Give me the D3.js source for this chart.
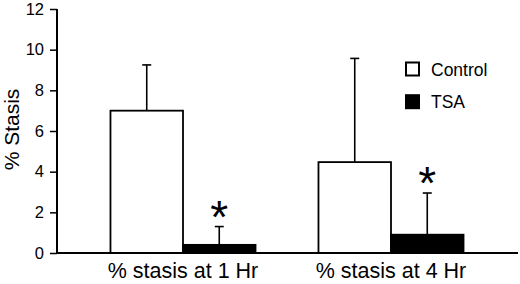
<!DOCTYPE html>
<html>
<head>
<meta charset="utf-8">
<script src="https://cdn.jsdelivr.net/npm/d3@7"></script>
<style>
html,body{margin:0;padding:0;background:#fff;}
svg{display:block;font-family:"Liberation Sans",Arial,sans-serif;}
</style>
</head>
<body>
<svg id="chart" width="520" height="284"></svg>
<script>
const categories = ["% stasis at 1 Hr", "% stasis at 4 Hr"];
const seriesNames = ["Control", "TSA"];
const controlValues = [7.0, 4.47];
const controlErrors = [2.25, 5.1];
const tsaValues = [0.4, 0.9];
const tsaErrors = [0.9, 2.05];
const significant = [true, true];
const yTicks = [0, 2, 4, 6, 8, 10, 12];
const yLabel = "% Stasis";

const svg = d3.select("#chart");
const axisX = 57, axisY = 253, topY = 9;

const y = d3.scaleLinear().domain([0, 12]).range([axisY, topY]);
const x0 = d3.scaleBand().domain(categories).range([79, 495]).padding(0);
const x1 = d3.scaleBand().domain(seriesNames).range([0, x0.bandwidth()]).paddingInner(0).paddingOuter(0.434);

const fills = {"Control": "#fff", "TSA": "#000"};

const data = [];
categories.forEach((c, i) => {
  data.push({cat: c, s: "Control", v: controlValues[i], e: controlErrors[i], sig: false});
  data.push({cat: c, s: "TSA", v: tsaValues[i], e: tsaErrors[i], sig: significant[i]});
});

// error bars (behind bars)
const eb = svg.append("g");
data.forEach(d => {
  const cx = x0(d.cat) + x1(d.s) + x1.bandwidth() / 2;
  eb.append("line").attr("x1", cx).attr("x2", cx)
    .attr("y1", y(d.v)).attr("y2", y(d.v + d.e))
    .attr("stroke", "#000").attr("stroke-width", 1.6);
  eb.append("line").attr("x1", cx - 4.5).attr("x2", cx + 4.5)
    .attr("y1", y(d.v + d.e)).attr("y2", y(d.v + d.e))
    .attr("stroke", "#000").attr("stroke-width", 1.6);
  if (d.sig) {
    svg.append("text").attr("x", cx).attr("y", y(d.v + d.e) + 6)
      .attr("text-anchor", "middle").attr("font-size", 46).attr("fill", "#000")
      .text("*");
  }
});

// bars
svg.append("g").selectAll("rect").data(data).join("rect")
  .attr("x", d => x0(d.cat) + x1(d.s))
  .attr("y", d => y(d.v))
  .attr("width", x1.bandwidth())
  .attr("height", d => y(0) - y(d.v))
  .attr("fill", d => fills[d.s])
  .attr("stroke", "#000").attr("stroke-width", 1.8);

// y axis
const yAxis = d3.axisLeft(y).tickValues(yTicks).tickSize(7).tickPadding(6).tickFormat(d3.format("d"));
const gy = svg.append("g").attr("transform", `translate(${axisX},0)`).call(yAxis);
gy.select(".domain").attr("stroke-width", 2).attr("d", `M0,${topY}V${axisY}`);
gy.selectAll(".tick line").attr("stroke-width", 1.5);
gy.selectAll(".tick text").attr("font-size", 16.5).attr("font-family", "Liberation Sans, Arial, sans-serif").attr("fill", "#000");

// x axis
const xAxis = d3.axisBottom(x0).tickSize(0).tickPadding(10);
const gx = svg.append("g").attr("transform", `translate(0,${axisY})`).call(xAxis);
gx.select(".domain").attr("stroke-width", 2).attr("d", `M${axisX},0H518`);
gx.selectAll(".tick text").attr("font-size", 21.5).attr("font-family", "Liberation Sans, Arial, sans-serif").attr("fill", "#000").attr("dy", "0.71em");

// y label
svg.append("text").attr("transform", `translate(19,129.5) rotate(-90)`)
  .attr("text-anchor", "middle").attr("font-size", 21).attr("fill", "#000").text(yLabel);

// legend
const lg = svg.append("g");
seriesNames.forEach((s, i) => {
  const ly = 62.5 + i * 32.7;
  lg.append("rect").attr("x", 406).attr("y", ly).attr("width", 13).attr("height", 13)
    .attr("fill", fills[s]).attr("stroke", "#000").attr("stroke-width", 2);
  lg.append("text").attr("x", 431).attr("y", ly + 13).attr("font-size", 17.5).attr("fill", "#000").text(s);
});
</script>
</body>
</html>
